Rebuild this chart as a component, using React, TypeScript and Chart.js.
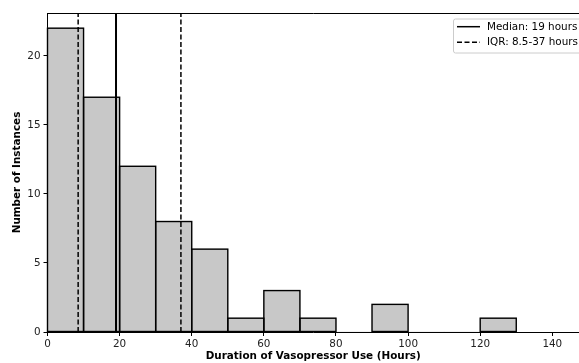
import React, { useEffect, useRef } from "react";
import { Chart, registerables } from "chart.js";

Chart.register(...registerables);

const binStarts = [0, 10, 20, 30, 40, 50, 60, 70, 80, 90, 100, 110, 120];
const counts = [22, 17, 12, 8, 6, 1, 3, 1, 0, 2, 0, 0, 1];
const binWidth = 10;
const median = 19;
const iqrLow = 8.5;
const iqrHigh = 37;
const xTicks = [0, 20, 40, 60, 80, 100, 120, 140];
const yTicks = [0, 5, 10, 15, 20];
const medianLabel = "Median: 19 hours";
const iqrLabel = "IQR: 8.5-37 hours";
const xTitle = "Duration of Vasopressor Use (Hours)";
const yTitle = "Number of Instances";

const FONT = "'DejaVu Sans', sans-serif";
const FS = 10.4;
const BAR_INDEX = 3;

export default function App() {
  const ref = useRef<HTMLCanvasElement>(null);
  useEffect(() => {
    document.body.style.margin = "0";
    const ctx = ref.current!.getContext("2d")!;
    const yMax = Math.max(...counts) * 1.05;
    const vline = (x: number) => [
      { x, y: 0 },
      { x, y: yMax },
    ];
    const frame = {
      id: "frame",
      afterDatasetDraw(chart: any, args: any) {
        if (args.index !== BAR_INDEX) return;
        const { ctx } = chart;
        ctx.save();
        ctx.strokeStyle = "#000";
        ctx.lineWidth = 1.4;
        args.meta.data.forEach((el: any, i: number) => {
          if (!counts[i]) return;
          const p = el.getProps(["x", "y", "base", "width"], true);
          const l = p.x - p.width / 2;
          ctx.strokeRect(l, p.y, p.width, p.base - p.y);
        });
        ctx.restore();
      },
      afterDraw(chart: any) {
        const { ctx, chartArea } = chart;
        ctx.save();
        ctx.strokeStyle = "#000";
        ctx.lineWidth = 1;
        ctx.beginPath();
        ctx.moveTo(chartArea.left, chartArea.top + 0.5);
        ctx.lineTo(chartArea.right, chartArea.top + 0.5);
        ctx.stroke();
        // legend
        const bx = 453, by = 18.5, bw = 140, bh = 34;
        ctx.fillStyle = "rgba(255,255,255,0.85)";
        ctx.strokeStyle = "#cccccc";
        ctx.lineWidth = 1;
        ctx.beginPath();
        ctx.roundRect(bx + 0.5, by + 0.5, bw, bh, 2);
        ctx.fill();
        ctx.stroke();
        ctx.strokeStyle = "#000";
        ctx.lineWidth = 1.5;
        ctx.beginPath();
        ctx.moveTo(457, 26.7);
        ctx.lineTo(480, 26.7);
        ctx.stroke();
        ctx.setLineDash([5, 2.5]);
        ctx.beginPath();
        ctx.moveTo(457, 42.3);
        ctx.lineTo(480, 42.3);
        ctx.stroke();
        ctx.setLineDash([]);
        ctx.fillStyle = "#000";
        ctx.font = `${FS}px ${FONT}`;
        ctx.textBaseline = "middle";
        ctx.textAlign = "left";
        ctx.fillText(medianLabel, 487, 27);
        ctx.fillText(iqrLabel, 487, 42.5);
        ctx.restore();
      },
    };
    const chart = new Chart(ctx, {
      type: "bar",
      data: {
        datasets: [
          {
            type: "line",
            label: medianLabel,
            data: vline(median),
            borderColor: "#000",
            borderWidth: 2,
            pointRadius: 0,
            order: 0,
          } as any,
          {
            type: "line",
            label: iqrLabel,
            data: vline(iqrLow),
            borderColor: "#000",
            borderWidth: 1.5,
            borderDash: [5, 2.5],
            pointRadius: 0,
            order: 0,
          } as any,
          {
            type: "line",
            label: iqrLabel,
            data: vline(iqrHigh),
            borderColor: "#000",
            borderWidth: 1.5,
            borderDash: [5, 2.5],
            pointRadius: 0,
            order: 0,
          } as any,
          {
            type: "bar",
            label: "Counts",
            data: binStarts.map((s, i) => ({ x: s + binWidth / 2, y: counts[i] })),
            backgroundColor: "#c8c8c8",
            borderWidth: 0,
            barPercentage: 1,
            categoryPercentage: 1,
            order: 1,
          } as any,
        ],
      },
      options: {
        animation: false,
        responsive: false,
        maintainAspectRatio: false,
        layout: { padding: { top: 13, right: 0, left: 11, bottom: 0 } },
        plugins: { legend: { display: false }, tooltip: { enabled: false } },
        scales: {
          x: {
            type: "linear",
            offset: false,
            min: 0,
            max: 147.4,
            afterBuildTicks: (s: any) => {
              s.ticks = xTicks.map((v) => ({ value: v }));
            },
            afterFit: (s: any) => {
              s.height = 31;
            },
            grid: { display: true, drawOnChartArea: false, tickLength: 4, color: "#000", offset: false },
            border: { display: true, color: "#000", width: 1 },
            ticks: { color: "#222", font: { family: FONT, size: FS }, padding: 2, maxRotation: 0 },
            title: {
              display: true,
              text: xTitle,
              color: "#000",
              font: { family: FONT, size: FS, weight: "bold" },
              padding: { top: 0, bottom: 0 },
            },
          },
          y: {
            min: 0,
            max: yMax,
            afterBuildTicks: (s: any) => {
              s.ticks = yTicks.map((v) => ({ value: v }));
            },
            afterFit: (s: any) => {
              s.width = 36.5;
            },
            grid: { display: true, drawOnChartArea: false, tickLength: 4, color: "#000" },
            border: { display: true, color: "#000", width: 1 },
            ticks: { color: "#222", font: { family: FONT, size: FS }, padding: 3 },
            title: {
              display: true,
              text: yTitle,
              color: "#000",
              font: { family: FONT, size: FS, weight: "bold" },
              padding: { top: 0, bottom: 0 },
            },
          },
        },
      } as any,
      plugins: [frame],
    });
    return () => chart.destroy();
  }, []);
  return <canvas ref={ref} width={579} height={363} style={{ display: "block" }} />;
}
